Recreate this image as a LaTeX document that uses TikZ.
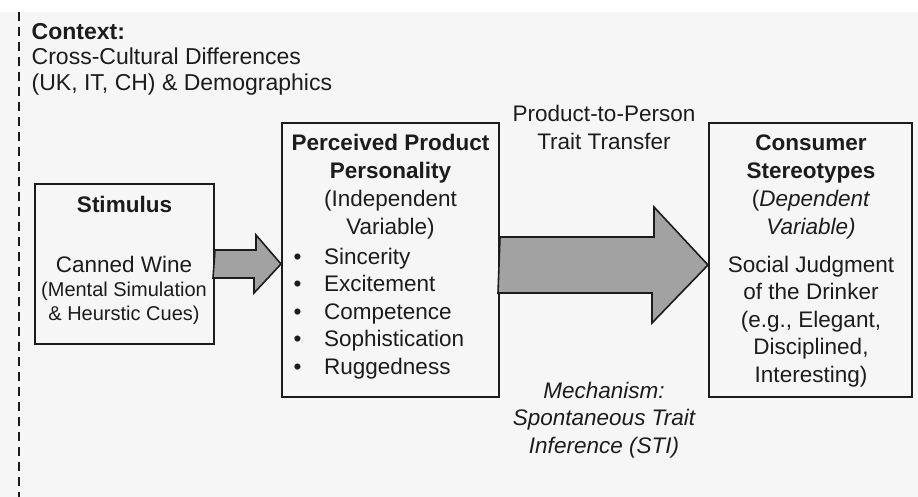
\documentclass[tikz,border=0pt]{standalone}
\usepackage{fontspec}
\setmainfont{Liberation Sans}
\definecolor{bggrey}{HTML}{F6F6F6}
\definecolor{arrowgrey}{HTML}{A2A2A2}
\definecolor{inkblack}{HTML}{1C1C1C}
\newcommand{\ppitem}{\makebox[30.7pt][l]{\textbullet}}

\begin{document}
\begin{tikzpicture}[x=1pt,y=-1pt,
  box/.style={rectangle,draw=inkblack,line width=2pt,inner sep=0pt},
  txt/.style={inner sep=0pt,align=center,text=inkblack,font=\fontsize{22.5}{27.5}\selectfont},
  fatarrow/.style={draw=inkblack,line width=1.6pt,fill=arrowgrey,line join=miter}]

  \useasboundingbox (0,0) rectangle (918,497);
  \fill[bggrey] (0,12) rectangle (918,497);
  \draw[inkblack,line width=2.5pt,dash pattern=on 9pt off 6pt] (19,12) -- (19,497);

  \node[txt,anchor=north west,align=left,font=\fontsize{23}{25.5}\selectfont] (context) at (31.5,21) {\strut\textbf{Context:}\\Cross-Cultural Differences\\(UK, IT, CH) \& Demographics};

  \node[box,minimum width=179pt,minimum height=160pt] (stim) at (124.5,264) {};
  \node[box,minimum width=217pt,minimum height=274pt] (ppp) at (390.5,260) {};
  \node[box,minimum width=203pt,minimum height=274pt] (cs) at (810.5,260) {};

  \node[txt,anchor=north,font=\bfseries\fontsize{22.5}{27.5}\selectfont] (stimhead) at ([shift={(0,9.75)}]stim.north) {\strut Stimulus};
  \node[txt,anchor=north,font=\fontsize{20}{24}\selectfont] (stimtxt) at ([shift={(-0.5,72.2)}]stim.north) {{\fontsize{22.5}{24}\selectfont\strut Canned Wine}\\(Mental Simulation\\\& Heurstic Cues)};

  \node[txt,anchor=north,font=\fontsize{22.5}{28}\selectfont] (ppphead) at ([shift={(0,8.4)}]ppp.north) {\strut\textbf{Perceived Product}\\\textbf{Personality}\\(Independent\\Variable)};
  \node[txt,anchor=north west,align=left] (traits) at ([shift={(12.3,122.75)}]ppp.north west) {\strut\ppitem Sincerity\\\ppitem Excitement\\\ppitem Competence\\\ppitem Sophistication\\\ppitem Ruggedness};

  \node[txt,anchor=north,font=\fontsize{22.5}{28}\selectfont] (cshead) at ([shift={(0.5,8.4)}]cs.north) {\strut\textbf{Consumer}\\\textbf{Stereotypes}\\(\textit{Dependent}\\\textit{Variable)}};
  \node[txt,anchor=north] (cstxt) at ([shift={(0.5,130.75)}]cs.north) {\strut Social Judgment\\of the Drinker\\(e.g., Elegant,\\Disciplined,\\Interesting)};

  \coordinate (tipA) at (stim.east -| ppp.west);
  \coordinate (tipB) at ([yshift=-5pt]cs.west);

  \draw[fatarrow] (stim.east) ++(0,-14) -- ++(41,0) -- ++(0,-15) -- (tipA) -- ++(-27,29) -- ++(0,-15) -- ++(-41,0) -- cycle;
  \draw[fatarrow] (tipB -| ppp.east) ++(0,-28) -- ++(154,0) -- ++(0,-30) -- (tipB) -- ++(-56,58) -- ++(0,-30) -- ++(-154,0) -- cycle;

  \node[txt,anchor=north,font=\fontsize{22.5}{28}\selectfont] (transfer) at (604,102.1) {\strut Product-to-Person\\Trait Transfer};
  \node[txt,anchor=north,font=\itshape\fontsize{22.5}{27.5}\selectfont] (sti) at (604,378.75) {\strut Mechanism:\\Spontaneous Trait\\Inference (STI)};
\end{tikzpicture}
\end{document}
